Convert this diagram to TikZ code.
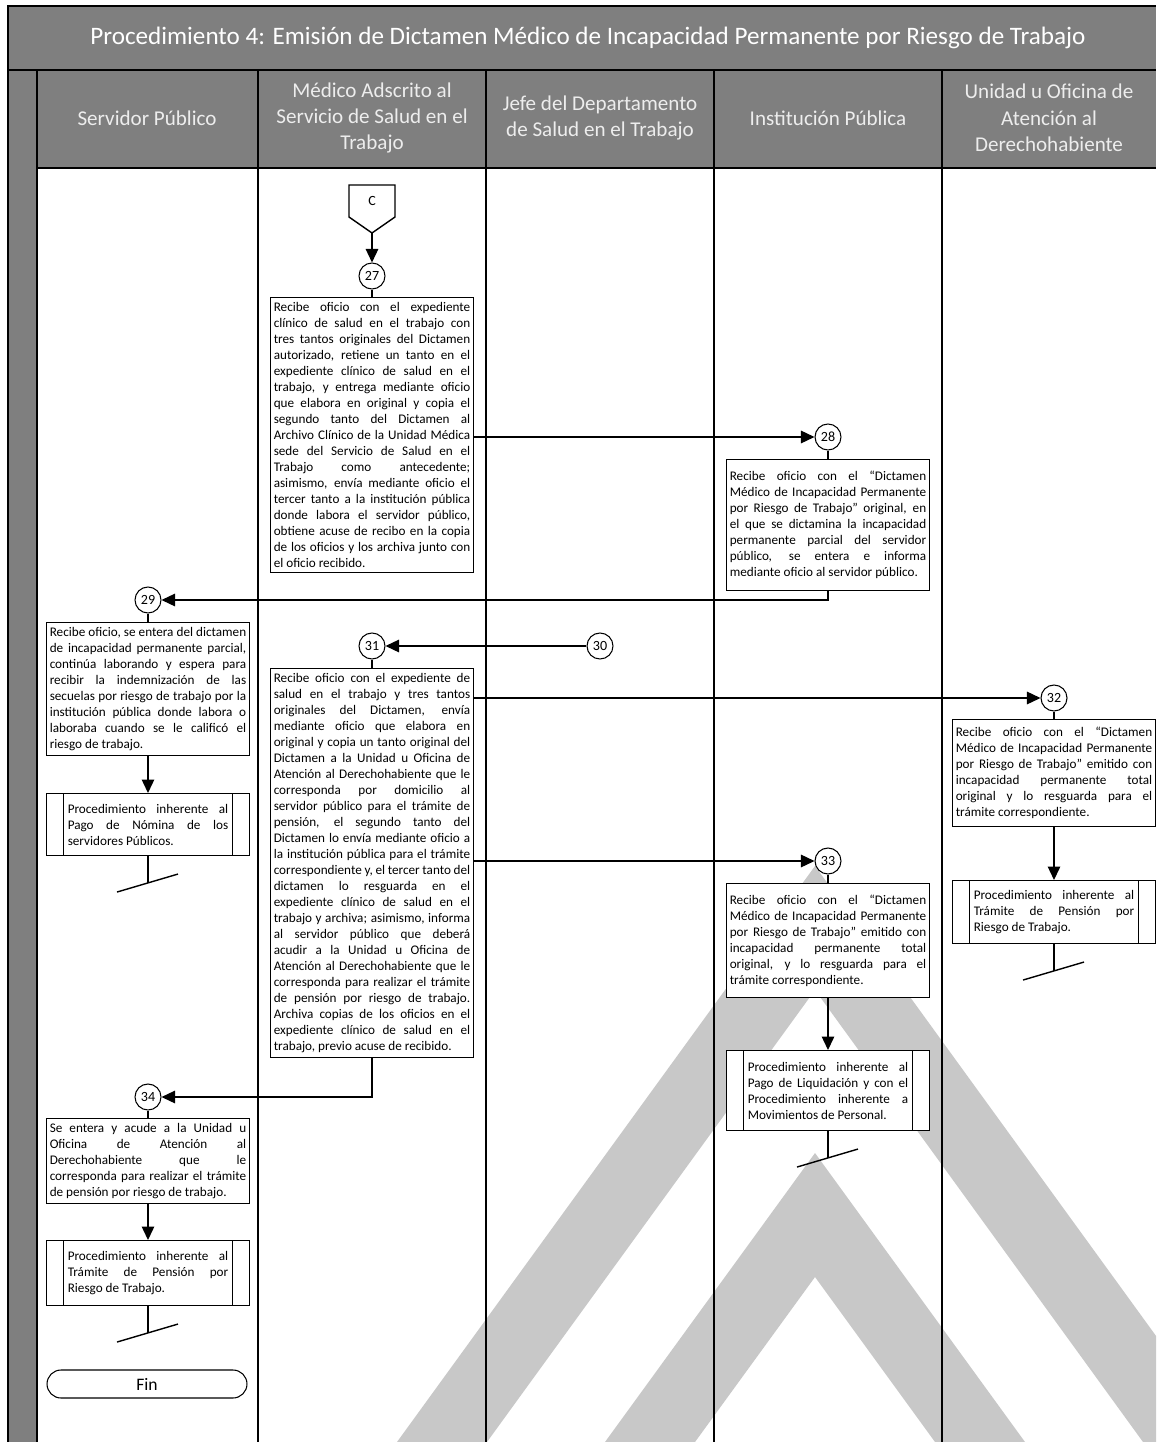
\documentclass[tikz,border=0pt]{standalone}
\usepackage{fontspec}
\setmainfont{Carlito}
\usetikzlibrary{arrows.meta}
\definecolor{grisenc}{RGB}{127,127,127}
\definecolor{grismarca}{RGB}{200,200,200}
\newcommand{\texto}[2][3.93cm]{\vbox{\hsize=#1\relax #2}}
\newcommand{\lin}[1]{\hbox to\hsize{#1}}
\newcommand{\ult}[1]{\hbox to\hsize{#1\hfil}}
\tikzset{
  caja/.style={draw, fill=white, line width=0.6pt, inner xsep=0.06cm, inner ysep=0.1cm, font=\fontsize{7.5}{9.1}\selectfont},
  proc/.style={caja, inner xsep=0.42cm},
  circulo/.style={draw, fill=white, circle, minimum size=0.52cm, inner sep=0pt, line width=0.6pt, font=\fontsize{8}{9}\selectfont},
  terminal/.style={draw, fill=white, rounded corners=0.28cm, minimum width=4cm, minimum height=0.56cm, line width=0.6pt, font=\fontsize{10}{12}\selectfont},
  flecha/.style={line width=0.8pt, -{Triangle[length=0.27cm,width=0.25cm]}},
  linea/.style={line width=0.8pt},
  carril/.style={line width=1.1pt},
  encab/.style={text=white!93!black, align=center, font=\fontsize{12}{15}\selectfont},
}
\begin{document}
\begin{tikzpicture}[x=0.02cm, y=-0.02cm]
\useasboundingbox (0,0) rectangle (1156,1442);
% marca de agua
\begin{scope}
\clip (37,168) rectangle (1156,1442);
\fill[grismarca] (397,1442) -- (815,866) -- (1233,1442) -- (1143,1442) -- (815,990) -- (487,1442) -- cycle;
\fill[grismarca] (605,1442) -- (815,1153) -- (1025,1442) -- (935,1442) -- (815,1277) -- (695,1442) -- cycle;
\end{scope}
% marco y carriles
\fill[grisenc] (8,6) rectangle (1156,168);
\fill[grisenc] (8,168) rectangle (37,1442);
\draw[carril] (8,1442) -- (8,6) -- (1156,6);
\draw[carril] (8,70) -- (1156,70);
\draw[carril] (37,168) -- (1156,168);
\foreach \x in {37,258,486,714,942} \draw[carril] (\x,70) -- (\x,1442);
\node[text=white, font=\fontsize{14.3}{16}\selectfont] (titulo) at (588,38) {Procedimiento 4: Emisión de Dictamen Médico de Incapacidad Permanente por Riesgo de Trabajo};
\node[encab] (h1) at (147,118) {Servidor Público};
\node[encab] (h2) at (372,118) {Médico Adscrito al\\Servicio de Salud en el\\Trabajo};
\node[encab] (h3) at (600,118) {Jefe del Departamento\\de Salud en el Trabajo};
\node[encab] (h4) at (828,118) {Institución Pública};
\node[encab] (h5) at (1049,118) {Unidad u Oficina de\\Atención al\\Derechohabiente};
% conector C
\draw[linea, fill=white] (349,185) -- (395,185) -- (395,217) -- (372,233) -- (349,217) -- cycle;
\node[font=\fontsize{8}{9}\selectfont] (conC) at (372,201) {C};
\coordinate (puntaC) at (372,233);
% actividades
\node[circulo] (n27) at (372,276) {27};
\node[caja, anchor=north] (a27) at (372,297) {\texto{\lin{Recibe oficio con el expediente}\lin{clínico de salud en el trabajo con}\lin{tres tantos originales del Dictamen}\lin{autorizado, retiene un tanto en el}\lin{expediente clínico de salud en el}\lin{trabajo, y entrega mediante oficio}\lin{que elabora en original y copia el}\lin{segundo tanto del Dictamen al}\lin{Archivo Clínico de la Unidad Médica}\lin{sede del Servicio de Salud en el}\lin{Trabajo como antecedente;}\lin{asimismo, envía mediante oficio el}\lin{tercer tanto a la institución pública}\lin{donde labora el servidor público,}\lin{obtiene acuse de recibo en la copia}\lin{de los oficios y los archiva junto con}\ult{el oficio recibido.}}};
\node[circulo] (n28) at (828,437) {28};
\node[caja, anchor=north, minimum height=2.62cm] (a28) at (828,459) {\texto{\lin{Recibe oficio con el “Dictamen}\lin{Médico de Incapacidad Permanente}\lin{por Riesgo de Trabajo” original, en}\lin{el que se dictamina la incapacidad}\lin{permanente parcial del servidor}\lin{público, se entera e informa}\ult{mediante oficio al servidor público.}}};
\node[circulo] (n29) at (148,600) {29};
\node[caja, anchor=north] (a29) at (148,622) {\texto{\lin{Recibe oficio, se entera del dictamen}\lin{de incapacidad permanente parcial,}\lin{continúa laborando y espera para}\lin{recibir la indemnización de las}\lin{secuelas por riesgo de trabajo por la}\lin{institución pública donde labora o}\lin{laboraba cuando se le calificó el}\ult{riesgo de trabajo.}}};
\node[proc, anchor=north, minimum height=1.24cm] (p29) at (148,793) {\texto[3.21cm]{\lin{Procedimiento inherente al}\lin{Pago de Nómina de los}\ult{servidores Públicos.}}};
\node[circulo] (n30) at (600,646) {30};
\node[circulo] (n31) at (372,646) {31};
\node[caja, anchor=north] (a31) at (372,668) {\texto{\lin{Recibe oficio con el expediente de}\lin{salud en el trabajo y tres tantos}\lin{originales del Dictamen, envía}\lin{mediante oficio que elabora en}\lin{original y copia un tanto original del}\lin{Dictamen a la Unidad u Oficina de}\lin{Atención al Derechohabiente que le}\lin{corresponda por domicilio al}\lin{servidor público para el trámite de}\lin{pensión, el segundo tanto del}\lin{Dictamen lo envía mediante oficio a}\lin{la institución pública para el trámite}\lin{correspondiente y, el tercer tanto del}\lin{dictamen lo resguarda en el}\lin{expediente clínico de salud en el}\lin{trabajo y archiva; asimismo, informa}\lin{al servidor público que deberá}\lin{acudir a la Unidad u Oficina de}\lin{Atención al Derechohabiente que le}\lin{corresponda para realizar el trámite}\lin{de pensión por riesgo de trabajo.}\lin{Archiva copias de los oficios en el}\lin{expediente clínico de salud en el}\ult{trabajo, previo acuse de recibido.}}};
\node[circulo] (n32) at (1054,698) {32};
\node[caja, anchor=north, minimum height=2.14cm] (a32) at (1054,719) {\texto{\lin{Recibe oficio con el “Dictamen}\lin{Médico de Incapacidad Permanente}\lin{por Riesgo de Trabajo” emitido con}\lin{incapacidad permanente total}\lin{original y lo resguarda para el}\ult{trámite correspondiente.}}};
\node[proc, anchor=north, minimum height=1.26cm] (p32) at (1054,880) {\texto[3.21cm]{\lin{Procedimiento inherente al}\lin{Trámite de Pensión por}\ult{Riesgo de Trabajo.}}};
\node[circulo] (n33) at (828,861) {33};
\node[caja, anchor=north, minimum height=2.28cm] (a33) at (828,883) {\texto{\lin{Recibe oficio con el “Dictamen}\lin{Médico de Incapacidad Permanente}\lin{por Riesgo de Trabajo” emitido con}\lin{incapacidad permanente total}\lin{original, y lo resguarda para el}\ult{trámite correspondiente.}}};
\node[proc, anchor=north, minimum height=1.6cm] (p33) at (828,1050) {\texto[3.21cm]{\lin{Procedimiento inherente al}\lin{Pago de Liquidación y con el}\lin{Procedimiento inherente a}\ult{Movimientos de Personal.}}};
\node[circulo] (n34) at (148,1097) {34};
\node[caja, anchor=north] (a34) at (148,1118) {\texto{\lin{Se entera y acude a la Unidad u}\lin{Oficina de Atención al}\lin{Derechohabiente que le}\lin{corresponda para realizar el trámite}\ult{de pensión por riesgo de trabajo.}}};
\node[proc, anchor=north, minimum height=1.3cm] (p34) at (148,1240) {\texto[3.21cm]{\lin{Procedimiento inherente al}\lin{Trámite de Pensión por}\ult{Riesgo de Trabajo.}}};
\node[terminal] (fin) at (147,1384) {Fin};
% conexiones
\draw[flecha] (puntaC) -- (n27);
\draw[linea] (n27) -- (a27);
\draw[flecha] (a27.east |- n28) -- (n28);
\draw[linea] (n28) -- (a28);
\draw[flecha] (a28.south) |- (n29);
\draw[linea] (n29) -- (a29);
\draw[flecha] (a29) -- (p29);
\draw[flecha] (n30) -- (n31);
\draw[linea] (n31) -- (a31);
\draw[flecha] (a31.east |- n32) -- (n32);
\draw[flecha] (a31.east |- n33) -- (n33);
\draw[linea] (n32) -- (a32);
\draw[flecha] (a32) -- (p32);
\draw[linea] (n33) -- (a33);
\draw[flecha] (a33) -- (p33);
\draw[flecha] (a31.south) |- (n34);
\draw[linea] (n34) -- (a34);
\draw[flecha] (a34) -- (p34);
\foreach \p in {p29,p32,p33,p34}{
  \draw[line width=0.6pt] ([xshift=0.34cm]\p.north west) -- ([xshift=0.34cm]\p.south west);
  \draw[line width=0.6pt] ([xshift=-0.34cm]\p.north east) -- ([xshift=-0.34cm]\p.south east);
  \draw[linea] (\p.south) -- ++(0,27) coordinate (f\p);
  \draw[linea] ([shift={(-31,9)}]f\p) -- ([shift={(30,-9)}]f\p);
}
\end{tikzpicture}
\end{document}
